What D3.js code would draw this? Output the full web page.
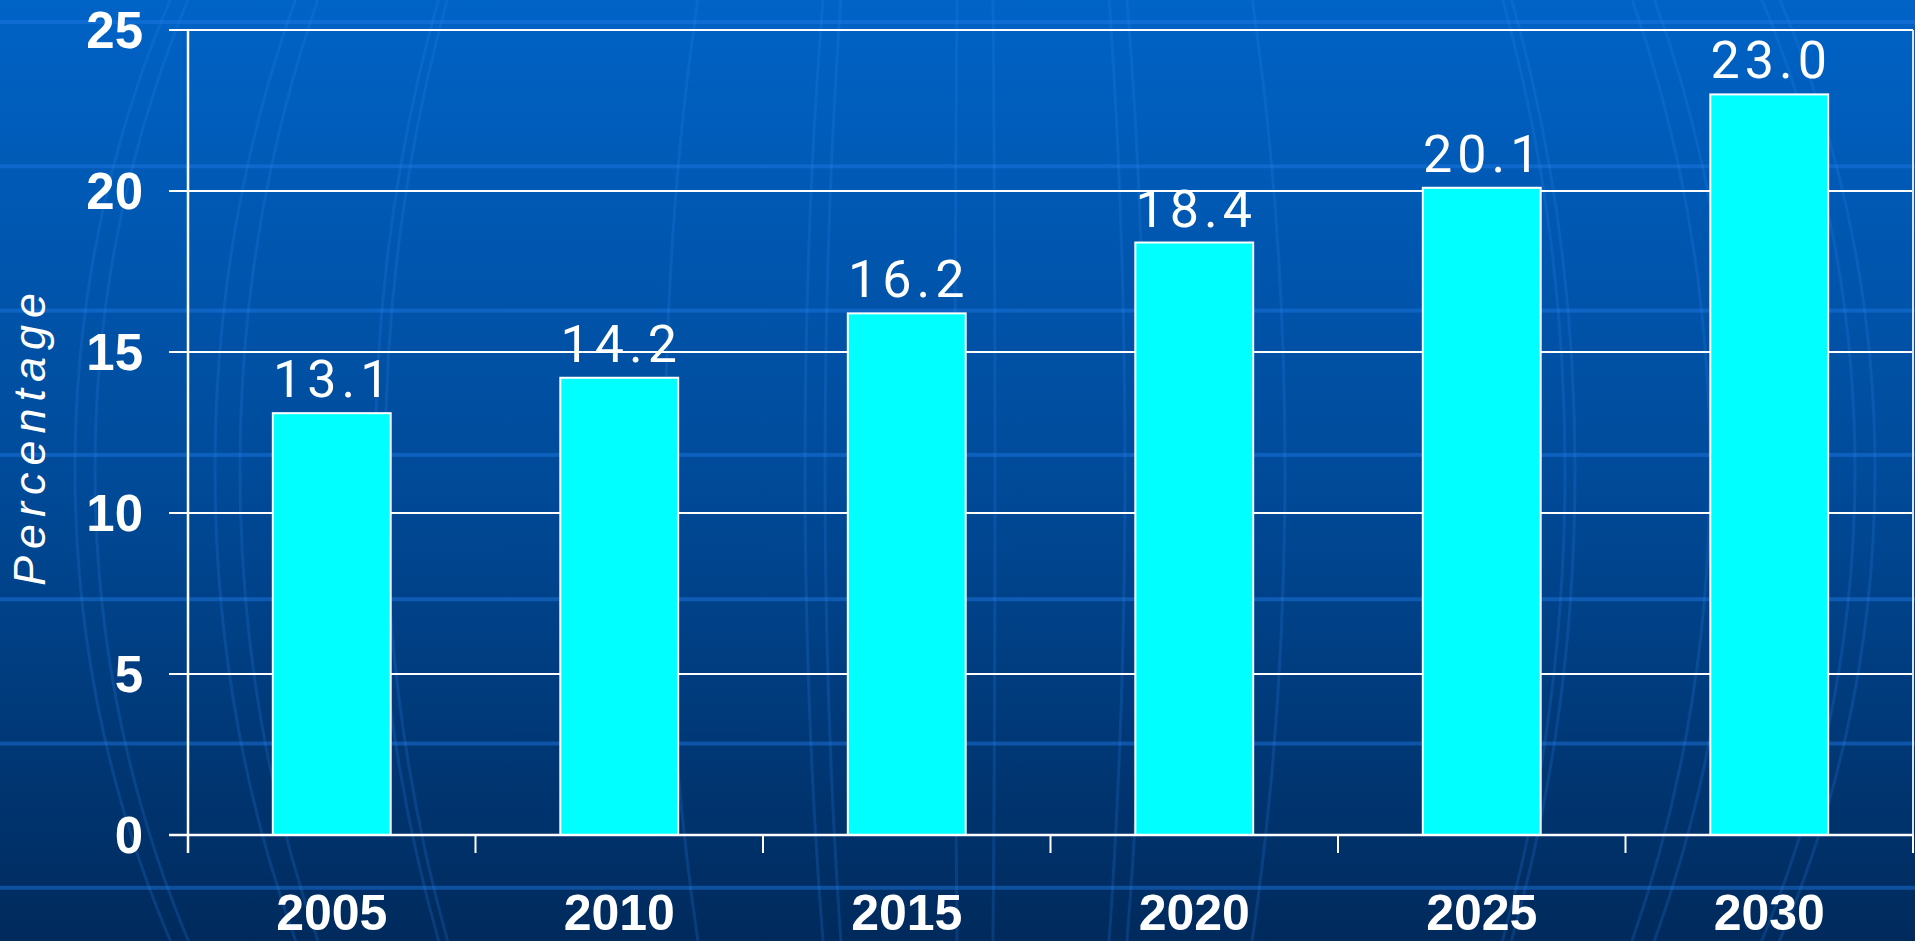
<!DOCTYPE html>
<html>
<head>
<meta charset="utf-8">
<script src="https://cdn.jsdelivr.net/npm/d3@7"></script>
<style>
  body { margin: 0; overflow: hidden; background: #003070; }
  svg { display: block; }
</style>
</head>
<body>
<div id="chart"></div>
<script>
// chart data
const years = ["2005", "2010", "2015", "2020", "2025", "2030"];
const values = [13.1, 14.2, 16.2, 18.4, 20.1, 23.0];
const yTicks = [0, 5, 10, 15, 20, 25];

const W = 1915, H = 941;
const margin = {top: 30, right: 2, bottom: 106, left: 188};

const svg = d3.select("#chart").append("svg")
    .attr("width", W)
    .attr("height", H);

// background gradient
const defs = svg.append("defs");
const grad = defs.append("linearGradient")
    .attr("id", "bg")
    .attr("x1", 0).attr("y1", 0).attr("x2", 0).attr("y2", 1);
grad.append("stop").attr("offset", "0%").attr("stop-color", "#0063c6");
grad.append("stop").attr("offset", "50%").attr("stop-color", "#004b9a");
grad.append("stop").attr("offset", "100%").attr("stop-color", "#002a5c");

svg.append("rect")
    .attr("width", W).attr("height", H)
    .attr("fill", "url(#bg)");

// faint horizontal bands of the slide background
const bg = svg.append("g");
d3.range(7).forEach(i => {
    bg.append("rect")
        .attr("x", 0).attr("width", W)
        .attr("y", 20 + i * 144.3).attr("height", 4)
        .attr("fill", "#1f7ae6")
        .attr("opacity", 0.45);
});

// globe meridians (decoration)
const meridians = [900, 760, 600, 170, 20, 150, 310, 590, 735, 880];
meridians.forEach(rx => {
    bg.append("ellipse")
        .attr("cx", 975).attr("cy", 470)
        .attr("rx", rx).attr("ry", 1050)
        .attr("fill", "none")
        .attr("stroke", "#2f86f0")
        .attr("stroke-width", 3)
        .attr("opacity", 0.2);
});

const x0 = margin.left, x1 = W - margin.right;
const yBase = H - margin.bottom;

const x = d3.scaleBand()
    .domain(years)
    .range([x0, x1])
    .padding(0);

const y = d3.scaleLinear()
    .domain([0, 25])
    .range([yBase, margin.top]);

const barW = x.bandwidth() * 0.41;

// gridlines + y ticks
svg.append("g")
    .selectAll("line")
    .data(yTicks)
    .enter().append("line")
    .attr("x1", x0 - 19)
    .attr("x2", x1)
    .attr("y1", d => y(d))
    .attr("y2", d => y(d))
    .attr("stroke", "#ffffff")
    .attr("stroke-width", 2);

// right border of plot
svg.append("line")
    .attr("x1", x1).attr("x2", x1)
    .attr("y1", y(25)).attr("y2", yBase + 18)
    .attr("stroke", "#d8e4f0")
    .attr("stroke-width", 2);

// y axis line
svg.append("line")
    .attr("x1", x0).attr("x2", x0)
    .attr("y1", y(25)).attr("y2", yBase + 18)
    .attr("stroke", "#ffffff")
    .attr("stroke-width", 2.5);

// x axis category ticks at band edges
const edges = years.map(d => x(d)).concat([x1]);
svg.append("g")
    .selectAll("line")
    .data(edges)
    .enter().append("line")
    .attr("x1", d => d).attr("x2", d => d)
    .attr("y1", yBase).attr("y2", yBase + 18)
    .attr("stroke", "#ffffff")
    .attr("stroke-width", 2);

// bars
svg.append("g")
    .selectAll("rect")
    .data(values)
    .enter().append("rect")
    .attr("x", (d, i) => x(years[i]) + (x.bandwidth() - barW) / 2)
    .attr("y", d => y(d))
    .attr("width", barW)
    .attr("height", d => yBase - y(d))
    .attr("fill", "#00ffff")
    .attr("stroke", "#ffffff")
    .attr("stroke-width", 2);

// x axis line on top of bars
svg.append("line")
    .attr("x1", x0 - 19).attr("x2", x1)
    .attr("y1", yBase).attr("y2", yBase)
    .attr("stroke", "#ffffff")
    .attr("stroke-width", 2.5);

// value labels
svg.append("g")
    .selectAll("text")
    .data(values)
    .enter().append("text")
    .attr("x", (d, i) => x(years[i]) + x.bandwidth() / 2 + 2)
    .attr("y", d => y(d) - 16)
    .attr("text-anchor", "middle")
    .style("font-family", "Roboto, 'Liberation Sans', sans-serif")
    .style("font-weight", 400)
    .style("font-size", "52px")
    .style("letter-spacing", "5px")
    .attr("fill", "#ffffff")
    .text(d => d.toFixed(1));

// y tick labels
svg.append("g")
    .selectAll("text")
    .data(yTicks)
    .enter().append("text")
    .attr("x", 143)
    .attr("y", d => y(d))
    .attr("dy", "0.36em")
    .attr("text-anchor", "end")
    .style("font-family", "'Liberation Sans', Arial, sans-serif")
    .style("font-weight", "bold")
    .style("font-size", "51px")
    .attr("fill", "#ffffff")
    .text(d => d);

// x category labels
svg.append("g")
    .selectAll("text")
    .data(years)
    .enter().append("text")
    .attr("x", d => x(d) + x.bandwidth() / 2)
    .attr("y", 930)
    .attr("text-anchor", "middle")
    .style("font-family", "'Liberation Sans', Arial, sans-serif")
    .style("font-weight", "bold")
    .style("font-size", "50px")
    .attr("fill", "#ffffff")
    .text(d => d);

// y axis title
svg.append("text")
    .attr("transform", "translate(45,436) rotate(-90)")
    .attr("text-anchor", "middle")
    .style("font-family", "'Liberation Sans', Arial, sans-serif")
    .style("font-style", "italic")
    .style("font-size", "45px")
    .style("letter-spacing", "7px")
    .attr("fill", "#ffffff")
    .text("Percentage");
</script>
</body>
</html>
